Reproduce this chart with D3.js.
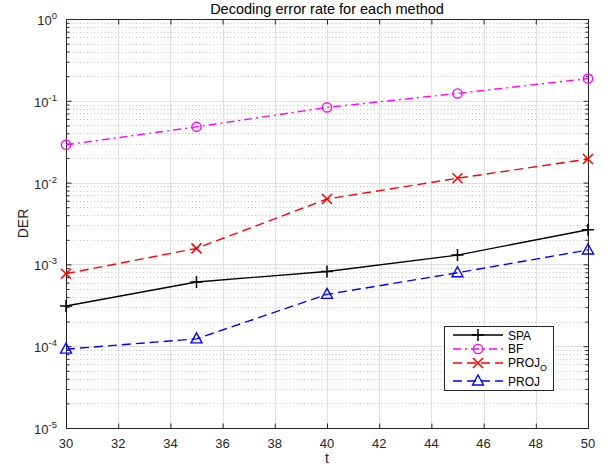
<!DOCTYPE html>
<html><head><meta charset="utf-8">
<script src="https://cdn.jsdelivr.net/npm/d3@7"></script>
<style>body{margin:0;background:#fff;} svg{display:block;font-family:"Liberation Sans",Arial,Helvetica,sans-serif;}</style>
</head><body>
<svg id="c" width="607" height="465"></svg>
<script>
const tValues = [30, 35, 40, 45, 50];
const spa = [3.1e-4, 6.1e-4, 8.2e-4, 1.3e-3, 2.65e-3];
const bf = [0.029, 0.048, 0.083, 0.123, 0.187];
const projO = [7.7e-4, 1.57e-3, 6.3e-3, 1.13e-2, 1.94e-2];
const proj = [9.2e-5, 1.23e-4, 4.3e-4, 7.9e-4, 1.5e-3];
const xTicks = [30, 32, 34, 36, 38, 40, 42, 44, 46, 48, 50];
const yExponents = [0, -1, -2, -3, -4, -5];
const seriesNames = ["SPA", "BF", "PROJ", "PROJ"];

const L = 66, R = 588, T = 19, B = 428;
const svg = d3.select("#c");
const x = d3.scaleLinear().domain([30, 50]).range([L, R]);
const y = d3.scaleLog().domain([1e-5, 1]).range([B, T]);
const axisCol = "#262626";

// minor grid (dotted)
const minor = [];
for (let e = -5; e < 0; e++) for (let m = 2; m <= 9; m++) minor.push(m * Math.pow(10, e));
svg.append("g").selectAll("line").data(minor).join("line")
  .attr("x1", L).attr("x2", R).attr("y1", d => Math.round(y(d)) + 0.5).attr("y2", d => Math.round(y(d)) + 0.5)
  .attr("stroke", "#c4c4c4").attr("stroke-width", 1).attr("stroke-dasharray", "1,2.5");
// major grid
svg.append("g").selectAll("line").data(xTicks.slice(1, -1)).join("line")
  .attr("x1", d => Math.round(x(d)) + 0.5).attr("x2", d => Math.round(x(d)) + 0.5).attr("y1", T).attr("y2", B)
  .attr("stroke", "#e0e0e0").attr("stroke-width", 1);
svg.append("g").selectAll("line").data(yExponents.slice(1, -1)).join("line")
  .attr("x1", L).attr("x2", R).attr("y1", d => Math.round(y(Math.pow(10, d))) + 0.5).attr("y2", d => Math.round(y(Math.pow(10, d))) + 0.5)
  .attr("stroke", "#e0e0e0").attr("stroke-width", 1);

// axes with inward ticks
const majY = yExponents.map(e => Math.pow(10, e));
const gAx = svg.append("g");
function drawYAxis(x0, dir) {
  const ax = (dir > 0 ? d3.axisRight(y) : d3.axisLeft(y)).tickValues(majY).tickSize(5).tickFormat("");
  const g = gAx.append("g").attr("transform", `translate(${x0},0)`).call(ax);
  g.select(".domain").remove();
  g.selectAll("line").attr("stroke", axisCol);
  const axm = (dir > 0 ? d3.axisRight(y) : d3.axisLeft(y)).tickValues(minor).tickSize(3).tickFormat("");
  const gm = gAx.append("g").attr("transform", `translate(${x0},0)`).call(axm);
  gm.select(".domain").remove();
  gm.selectAll("line").attr("stroke", axisCol);
}
drawYAxis(L + 0.5, 1);
drawYAxis(R + 0.5, -1);
function drawXAxis(y0, dir) {
  const ax = (dir > 0 ? d3.axisBottom(x) : d3.axisTop(x)).tickValues(xTicks).tickSize(5).tickFormat("");
  const g = gAx.append("g").attr("transform", `translate(0,${y0})`).call(ax);
  g.select(".domain").remove();
  g.selectAll("line").attr("stroke", axisCol);
}
drawXAxis(T + 0.5, 1);
drawXAxis(B + 0.5, -1);
svg.append("rect").attr("x", L + 0.5).attr("y", T + 0.5).attr("width", R - L).attr("height", B - T)
  .attr("fill", "none").attr("stroke", axisCol).attr("stroke-width", 1);

// tick labels
svg.append("g").selectAll("text").data(xTicks).join("text")
  .attr("x", d => x(d)).attr("y", B + 20).attr("text-anchor", "middle")
  .attr("font-size", 13).attr("fill", axisCol).text(d => d);
const yl = svg.append("g").selectAll("text").data(yExponents).join("text")
  .attr("x", 57).attr("y", d => y(Math.pow(10, d)) + 6).attr("text-anchor", "end")
  .attr("font-size", 13).attr("fill", axisCol);
yl.append("tspan").text("10");
yl.append("tspan").attr("dy", -6).attr("font-size", 9.5).text(d => d);

// labels
svg.append("text").attr("x", (L + R) / 2).attr("y", 14).attr("text-anchor", "middle")
  .attr("font-size", 14.5).attr("fill", "#000").text("Decoding error rate for each method");
svg.append("text").attr("x", (L + R) / 2).attr("y", 463).attr("text-anchor", "middle")
  .attr("font-size", 14).attr("fill", axisCol).text("t");
svg.append("text").attr("transform", `translate(28,${(T + B) / 2}) rotate(-90)`).attr("text-anchor", "middle")
  .attr("font-size", 14).attr("fill", axisCol).text("DER");

// series
const series = [
  {vals: spa, color: "#000000", dash: null, marker: "plus"},
  {vals: bf, color: "#ff00ff", dash: "8,4,2,4", marker: "circle"},
  {vals: projO, color: "#ff0000", dash: "9,5", marker: "x"},
  {vals: proj, color: "#0000ff", dash: "9,5", marker: "tri"}
];
function marker(g, type, cx, cy, color) {
  if (type === "plus") {
    g.append("path").attr("d", `M${cx - 6},${cy}H${cx + 6}M${cx},${cy - 6}V${cy + 6}`).attr("stroke", color).attr("stroke-width", 1.5).attr("fill", "none");
  } else if (type === "circle") {
    g.append("circle").attr("cx", cx).attr("cy", cy).attr("r", 4.6).attr("stroke", color).attr("stroke-width", 1.4).attr("fill", "none");
  } else if (type === "x") {
    g.append("path").attr("d", `M${cx - 5},${cy - 5}L${cx + 5},${cy + 5}M${cx - 5},${cy + 5}L${cx + 5},${cy - 5}`).attr("stroke", color).attr("stroke-width", 1.5).attr("fill", "none");
  } else if (type === "tri") {
    g.append("path").attr("d", `M${cx},${cy - 6}L${cx + 5.5},${cy + 4}L${cx - 5.5},${cy + 4}Z`).attr("stroke", color).attr("stroke-width", 1.4).attr("fill", "none");
  }
}
const line = d3.line().x((d, i) => x(tValues[i])).y(d => y(d));
const gs = svg.append("g");
series.forEach(s => {
  gs.append("path").attr("d", line(s.vals)).attr("fill", "none").attr("stroke", s.color)
    .attr("stroke-width", 1.4).attr("stroke-dasharray", s.dash);
  s.vals.forEach((v, i) => marker(gs, s.marker, x(tValues[i]), y(v), s.color));
});

// legend
const lg = svg.append("g");
lg.append("rect").attr("x", 444.5).attr("y", 326.5).attr("width", 109).attr("height", 64)
  .attr("fill", "#fff").attr("stroke", axisCol).attr("stroke-width", 1);
const rowY = [335, 349, 363, 381];
const textBase = [339.5, 352.5, 366.5, 386];
series.forEach((s, i) => {
  lg.append("line").attr("x1", 453).attr("x2", 503).attr("y1", rowY[i]).attr("y2", rowY[i])
    .attr("stroke", s.color).attr("stroke-width", 1.4).attr("stroke-dasharray", s.dash);
  marker(lg, s.marker, 478, rowY[i], s.color);
  const t = lg.append("text").attr("x", 508).attr("y", textBase[i]).attr("font-size", 12).attr("fill", "#000");
  t.append("tspan").text(seriesNames[i]);
  if (i === 2) t.append("tspan").attr("dy", 4.5).attr("font-size", 9).text("O");
});
</script>
</body></html>
